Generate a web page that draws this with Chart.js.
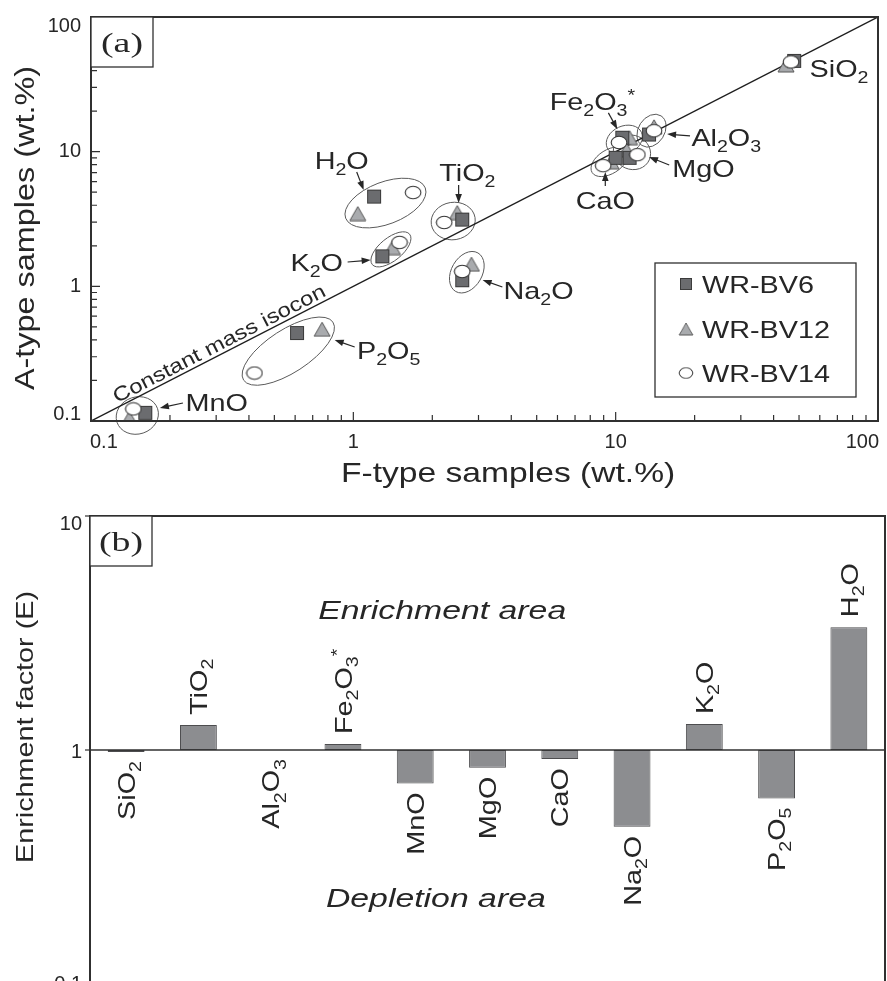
<!DOCTYPE html>
<html>
<head>
<meta charset="utf-8">
<script src="https://cdn.jsdelivr.net/npm/chart.js@4.4.1/dist/chart.umd.min.js"></script>
<style>
  html, body { margin: 0; padding: 0; background: #fff; overflow: hidden; }
  #wrap { position: relative; width: 887px; height: 981px; overflow: hidden; }
  #isocon { position: absolute; left: 0; top: 0; }
  #factor { position: absolute; left: 0; top: 490px; }
</style>
</head>
<body>
<div id="wrap">
  <canvas id="isocon" width="887" height="490" style="width:887px;height:490px"></canvas>
  <canvas id="factor" width="887" height="510" style="width:887px;height:510px"></canvas>
</div>
<script>
// oxide names, "_" = subscript, "^" = superscript
const oxides = ['SiO_2', 'TiO_2', 'Al_2O_3', 'Fe_2O_3^*', 'MnO', 'MgO', 'CaO', 'Na_2O', 'K_2O', 'P_2O_5', 'H_2O'];

// (a) F-type (x) vs A-type (y) samples, wt.%
const bv6F  = [47.9, 2.60, 13.4, 10.6, 0.161, 11.3, 10.0, 2.60, 1.29, 0.61, 1.20];
const bv6A  = [47.2, 3.13, 13.4, 12.7, 0.115, 9.0, 9.0, 1.11, 1.67, 0.45, 4.64];
const bv12F = [44.6, 2.49, 14.0, 11.3, 0.140, 11.0, 9.6, 2.82, 1.41, 0.76, 1.04];
const bv12A = [44.1, 3.53, 15.3, 12.7, 0.105, 10.3, 8.4, 1.46, 1.94, 0.48, 3.47];
const bv14F = [46.6, 2.22, 14.0, 10.3, 0.145, 12.1, 8.96, 2.60, 1.50, 0.42, 1.69];
const bv14A = [46.4, 2.98, 14.3, 11.7, 0.123, 9.5, 7.87, 1.29, 2.12, 0.227, 4.97];
const isoconX = [0.1, 100];
const isoconY = [0.1, 100];
const ticksA = [0.1, 1, 10, 100];

// (b) enrichment factor E
const enrichment = [0.98, 1.28, 1.00, 1.06, 0.72, 0.84, 0.915, 0.47, 1.29, 0.62, 3.35];
const ticksB = [0.1, 1, 10];

// label + arrow placement for panel (a), in data units
const notesA = [
  { i: 10, at: [0.903, 8.67], arrow: [[1.03, 7.06], [1.095, 5.19]] },
  { i: 1, at: [2.72, 7.06], arrow: [[2.52, 5.65], [2.52, 4.16]] },
  { i: 3, at: [8.15, 23.8], arrow: [[9.38, 19.4], [10.15, 14.7]] },
  { i: 2, at: [26.4, 12.85], arrow: [[19.2, 13.1], [15.7, 13.5]] },
  { i: 5, at: [21.6, 7.56], arrow: [[16.0, 7.96], [13.4, 9.13]] },
  { i: 6, at: [9.13, 4.38], arrow: [[9.13, 5.56], [9.13, 7.06]] },
  { i: 0, at: [71.0, 41.8] },
  { i: 8, at: [0.725, 1.516], arrow: [[0.951, 1.516], [1.164, 1.568]] },
  { i: 7, at: [5.08, 0.939], arrow: [[3.70, 0.989], [3.11, 1.114]] },
  { i: 9, at: [1.363, 0.3366], arrow: [[1.012, 0.3544], [0.849, 0.3995]] },
  { i: 4, at: [0.3017, 0.1384], arrow: [[0.2241, 0.1361], [0.1831, 0.1249]] }
];

const FONT = "'Liberation Sans', Arial, sans-serif";
const SERIF = "'Liberation Serif', 'Times New Roman', serif";
const INK = '#262626';
const FRAME = '#303030';
Chart.defaults.font.family = FONT;

function pairs(xs, ys) {
  return xs.map((v, k) => ({ x: v, y: ys[k] }));
}

function richParts(s) {
  const parts = [];
  for (let k = 0; k < s.length; k++) {
    const ch = s[k];
    if ((ch === '_' || ch === '^') && k + 1 < s.length) {
      parts.push({ t: s[k + 1], mode: ch });
      k++;
    } else if (parts.length && parts[parts.length - 1].mode === '') {
      parts[parts.length - 1].t += ch;
    } else {
      parts.push({ t: ch, mode: '' });
    }
  }
  return parts;
}

// text with sub/superscripts, optionally rotated; (x, y) is the cap-height middle
function drawRich(ctx, s, x, y, o) {
  const size = o.size, st = o.stretch || 1.2;
  const pre = o.italic ? 'italic ' : '';
  const fam = o.family || FONT;
  const parts = richParts(s).map(p => {
    const fs = p.mode ? size * 0.68 : size;
    const dy = p.mode === '_' ? size * 0.26 : p.mode === '^' ? -size * 0.36 : 0;
    const font = pre + fs + 'px ' + fam;
    ctx.font = font;
    return { t: p.t, font, dy, w: ctx.measureText(p.t).width };
  });
  const w = parts.reduce((a, p) => a + p.w, 0);
  ctx.save();
  ctx.translate(x, y);
  ctx.rotate(o.rot || 0);
  ctx.scale(st, 1);
  ctx.fillStyle = o.color || INK;
  ctx.textBaseline = 'alphabetic';
  ctx.textAlign = 'left';
  let cx = o.align === 'left' ? 0 : o.align === 'right' ? -w : -w / 2;
  const base = size * 0.36;
  parts.forEach(p => {
    ctx.font = p.font;
    ctx.fillText(p.t, cx, base + p.dy);
    cx += p.w;
  });
  ctx.restore();
  return w * st;
}

function tickText(ctx, txt, x, y, align, baseline) {
  ctx.font = '20px ' + FONT;
  ctx.fillStyle = INK;
  ctx.textAlign = align;
  ctx.textBaseline = baseline;
  ctx.fillText(txt, x, y);
}

function arrow(ctx, x1, y1, x2, y2) {
  const ang = Math.atan2(y2 - y1, x2 - x1), h = 9, s = 3.3;
  const c = Math.cos(ang), n = Math.sin(ang);
  ctx.beginPath();
  ctx.moveTo(x1, y1);
  ctx.lineTo(x2 - c * h * 0.7, y2 - n * h * 0.7);
  ctx.stroke();
  ctx.beginPath();
  ctx.moveTo(x2, y2);
  ctx.lineTo(x2 - h * c + s * n, y2 - h * n - s * c);
  ctx.lineTo(x2 - h * c - s * n, y2 - h * n + s * c);
  ctx.closePath();
  ctx.fill();
}

function decadeTicks(min, max) {
  const out = [];
  for (let e = Math.round(Math.log10(min)); e < Math.round(Math.log10(max)); e++) {
    for (let m = 1; m < 10; m++) out.push({ v: m * Math.pow(10, e), major: m === 1 });
  }
  out.push({ v: max, major: true });
  return out;
}

function makeMarker(kind) {
  const c = document.createElement('canvas');
  const g = c.getContext('2d');
  g.lineWidth = 1;
  if (kind === 'square') {
    c.width = 16; c.height = 16;
    g.fillStyle = '#6b6c6f'; g.strokeStyle = '#3a3a3a';
    g.fillRect(1.5, 1.5, 13, 13);
    g.strokeRect(1.5, 1.5, 13, 13);
  } else if (kind === 'triangle') {
    c.width = 18; c.height = 16;
    g.fillStyle = '#a9abae'; g.strokeStyle = '#555';
    g.beginPath(); g.moveTo(9, 1); g.lineTo(17, 15); g.lineTo(1, 15); g.closePath();
    g.fill(); g.stroke();
  } else {
    c.width = 18; c.height = 15;
    g.fillStyle = '#fff'; g.strokeStyle = '#333'; g.lineWidth = 1.1;
    g.beginPath(); g.ellipse(9, 7.5, 7.8, 6.2, 0, 0, Math.PI * 2);
    g.fill(); g.stroke();
  }
  return c;
}

const markers = { square: makeMarker('square'), triangle: makeMarker('triangle'), circle: makeMarker('circle') };

// ellipse round one oxide group (pixel points)
function ring(ctx, pts) {
  let a = pts[0], b = pts[1], best = -1;
  for (let p = 0; p < pts.length; p++) {
    for (let q = p + 1; q < pts.length; q++) {
      const d = Math.hypot(pts[q].x - pts[p].x, pts[q].y - pts[p].y);
      if (d > best) { best = d; a = pts[p]; b = pts[q]; }
    }
  }
  const cx = (a.x + b.x) / 2, cy = (a.y + b.y) / 2;
  const ang = Math.atan2(b.y - a.y, b.x - a.x);
  let minor = 0;
  pts.forEach(p => {
    const d = Math.abs(-(p.x - cx) * Math.sin(ang) + (p.y - cy) * Math.cos(ang));
    minor = Math.max(minor, d);
  });
  ctx.beginPath();
  ctx.ellipse(cx, cy, best / 2 + 13, minor + 11, ang, 0, Math.PI * 2);
  ctx.stroke();
}

const isoconDecor = {
  id: 'isoconDecor',
  beforeDatasetsDraw(chart) {
    const { ctx, scales: { x, y } } = chart;
    ctx.save();
    ctx.strokeStyle = '#5a5a5a';
    ctx.lineWidth = 1;
    oxides.forEach((name, i) => {
      if (i === 0) return; // SiO2 has no ring
      const pts = [[bv6F, bv6A], [bv12F, bv12A], [bv14F, bv14A]].map(([fx, fy]) => ({
        x: x.getPixelForValue(fx[i]), y: y.getPixelForValue(fy[i])
      }));
      ring(ctx, pts);
    });
    ctx.restore();
  },
  afterDraw(chart) {
    const { ctx, chartArea: a, scales: { x, y } } = chart;
    ctx.save();
    // frame
    ctx.strokeStyle = FRAME;
    ctx.lineWidth = 2;
    ctx.strokeRect(a.left, a.top, a.right - a.left, a.bottom - a.top);
    // inward ticks
    ctx.lineWidth = 1.2;
    decadeTicks(0.1, 100).forEach(t => {
      if (t.v <= 0.1 || t.v >= 100) return;
      const len = t.major ? 9 : 6;
      const px = x.getPixelForValue(t.v), py = y.getPixelForValue(t.v);
      ctx.beginPath();
      ctx.moveTo(px, a.bottom); ctx.lineTo(px, a.bottom - len);
      ctx.moveTo(a.left, py); ctx.lineTo(a.left + len, py);
      ctx.stroke();
    });
    // tick labels
    ticksA.forEach((v, k) => {
      const px = x.getPixelForValue(v);
      const align = k === 0 ? 'left' : k === ticksA.length - 1 ? 'right' : 'center';
      tickText(ctx, String(v), k === 0 ? a.left - 1 : k === ticksA.length - 1 ? a.right + 1 : px, a.bottom + 21, align, 'middle');
      const py = y.getPixelForValue(v);
      if (k === 0) tickText(ctx, String(v), a.left - 10, a.bottom - 1, 'right', 'alphabetic');
      else if (k === ticksA.length - 1) tickText(ctx, String(v), a.left - 10, a.top - 1, 'right', 'top');
      else tickText(ctx, String(v), a.left - 10, py, 'right', 'middle');
    });
    // axis titles
    drawRich(ctx, 'F-type samples (wt.%)', a.left + 0.53 * (a.right - a.left), a.bottom + 51, { size: 28 });
    drawRich(ctx, 'A-type samples (wt.%)', 24, (a.top + a.bottom) / 2 + 9, { size: 27, rot: -Math.PI / 2 });
    // isocon label
    const ang = Math.atan2(y.getPixelForValue(100) - y.getPixelForValue(0.1), x.getPixelForValue(100) - x.getPixelForValue(0.1));
    drawRich(ctx, 'Constant mass isocon', x.getPixelForValue(0.307), y.getPixelForValue(0.3795), { size: 20, rot: ang });
    // oxide labels and arrows
    ctx.strokeStyle = INK;
    ctx.fillStyle = INK;
    ctx.lineWidth = 1.2;
    notesA.forEach(n => {
      drawRich(ctx, oxides[n.i], x.getPixelForValue(n.at[0]), y.getPixelForValue(n.at[1]), { size: 24 });
      if (n.arrow) {
        const [p, q] = n.arrow;
        ctx.fillStyle = INK;
        arrow(ctx, x.getPixelForValue(p[0]), y.getPixelForValue(p[1]), x.getPixelForValue(q[0]), y.getPixelForValue(q[1]));
      }
    });
    // legend box
    const bx = a.right - 223, by = a.top + 246, bw = 201, bh = 134;
    ctx.fillStyle = '#fff';
    ctx.fillRect(bx, by, bw, bh);
    ctx.strokeStyle = FRAME;
    ctx.lineWidth = 1.3;
    ctx.strokeRect(bx, by, bw, bh);
    [['WR-BV6', markers.square], ['WR-BV12', markers.triangle], ['WR-BV14', markers.circle]].forEach(([txt, m], k) => {
      const ry = by + [21, 66, 110][k];
      const w = m.width * 0.85, h = m.height * 0.85;
      ctx.drawImage(m, bx + 31 - w / 2, ry - h / 2, w, h);
      drawRich(ctx, txt, bx + 47, ry, { size: 24, align: 'left' });
    });
    // panel tag
    ctx.fillStyle = '#fff';
    ctx.fillRect(a.left, a.top, 62, 50);
    ctx.lineWidth = 1.3;
    ctx.strokeRect(a.left, a.top, 62, 50);
    drawRich(ctx, '(a)', a.left + 31, a.top + 25, { size: 28, family: SERIF, stretch: 1.35 });
    ctx.restore();
  }
};

new Chart(document.getElementById('isocon'), {
  type: 'scatter',
  data: {
    datasets: [
      { label: 'WR-BV14', data: pairs(bv14F, bv14A), pointStyle: markers.circle, pointRadius: 8, order: 1 },
      { label: 'WR-BV6', data: pairs(bv6F, bv6A), pointStyle: markers.square, pointRadius: 8, order: 2 },
      { label: 'WR-BV12', data: pairs(bv12F, bv12A), pointStyle: markers.triangle, pointRadius: 8, order: 3 },
      { label: 'isocon', data: pairs(isoconX, isoconY), showLine: true, borderColor: '#1e1e1e', borderWidth: 1.4, pointRadius: 0, order: 4 }
    ]
  },
  options: {
    responsive: false,
    animation: false,
    layout: { padding: { left: 91, right: 8, top: 17, bottom: 69 } },
    plugins: { legend: { display: false }, tooltip: { enabled: false } },
    scales: {
      x: { type: 'logarithmic', min: 0.1, max: 100, display: false },
      y: { type: 'logarithmic', min: 0.1, max: 100, display: false }
    }
  },
  plugins: [isoconDecor]
});

const factorDecor = {
  id: 'factorDecor',
  afterDatasetsDraw(chart) {
    const { ctx, chartArea: a, scales: { y } } = chart;
    const y1 = y.getPixelForValue(1);
    ctx.save();
    ctx.strokeStyle = FRAME;
    // baseline at E = 1
    ctx.lineWidth = 1.5;
    ctx.beginPath(); ctx.moveTo(a.left, y1); ctx.lineTo(a.right, y1); ctx.stroke();
    // frame
    ctx.lineWidth = 2;
    ctx.strokeRect(a.left, a.top, a.right - a.left, a.bottom - a.top);
    // outward ticks + labels
    ctx.lineWidth = 1.2;
    ticksB.forEach((v, k) => {
      const py = y.getPixelForValue(v);
      ctx.beginPath(); ctx.moveTo(a.left - 5, py); ctx.lineTo(a.left, py); ctx.stroke();
      if (k === ticksB.length - 1) tickText(ctx, String(v), a.left - 8, a.top - 2, 'right', 'top');
      else tickText(ctx, String(v), a.left - 8, py + (v === 1 ? 2 : 0), 'right', 'middle');
    });
    // bar labels, above enriched bars and below depleted ones
    const meta = chart.getDatasetMeta(0);
    meta.data.forEach((bar, i) => {
      const hi = Math.min(bar.y, bar.base, y1), lo = Math.max(bar.y, bar.base, y1);
      if (enrichment[i] > 1) {
        drawRich(ctx, oxides[i], bar.x, hi - 10, { size: 24, rot: -Math.PI / 2, align: 'left' });
      } else {
        drawRich(ctx, oxides[i], bar.x, lo + 9, { size: 24, rot: -Math.PI / 2, align: 'right' });
      }
    });
    // area notes
    const w = a.right - a.left;
    drawRich(ctx, 'Enrichment area', a.left + 0.443 * w, y.getPixelForValue(3.97), { size: 26, italic: true, stretch: 1.3 });
    drawRich(ctx, 'Depletion area', a.left + 0.435 * w, y.getPixelForValue(0.235), { size: 26, italic: true, stretch: 1.3 });
    // y title
    drawRich(ctx, 'Enrichment factor (E)', 24, a.top + 211, { size: 24, rot: -Math.PI / 2 });
    // panel tag
    ctx.fillStyle = '#fff';
    ctx.fillRect(a.left, a.top, 62, 50);
    ctx.strokeStyle = FRAME;
    ctx.lineWidth = 1.3;
    ctx.strokeRect(a.left, a.top, 62, 50);
    drawRich(ctx, '(b)', a.left + 31, a.top + 25, { size: 28, family: SERIF, stretch: 1.35 });
    ctx.restore();
  }
};

new Chart(document.getElementById('factor'), {
  type: 'bar',
  data: {
    labels: oxides,
    datasets: [{
      label: 'E',
      data: enrichment.map(v => [1, v]),
      backgroundColor: '#8c8d90',
      borderColor: '#4d4d4f',
      borderWidth: 1,
      borderSkipped: false,
      categoryPercentage: 0.51,
      barPercentage: 1
    }]
  },
  options: {
    responsive: false,
    animation: false,
    layout: { padding: { left: 90, right: 2, top: 26, bottom: 16 } },
    plugins: { legend: { display: false }, tooltip: { enabled: false } },
    scales: {
      x: { type: 'category', display: false, offset: true },
      y: { type: 'logarithmic', min: 0.1, max: 10, display: false }
    }
  },
  plugins: [factorDecor]
});
</script>
</body>
</html>
